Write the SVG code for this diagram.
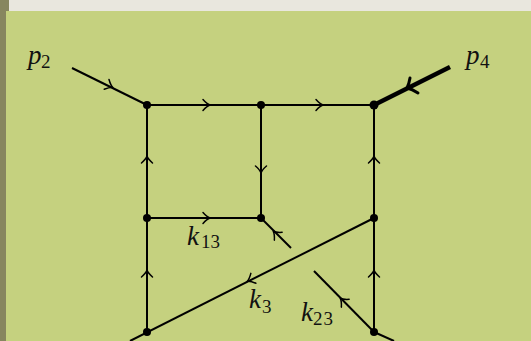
<svg xmlns="http://www.w3.org/2000/svg" width="531" height="341" viewBox="0 0 531 341">
<style>
.l{fill:none;stroke:#000;stroke-width:2;stroke-linecap:butt}
.a{fill:none;stroke:#000;stroke-width:1.5;stroke-linecap:round;stroke-linejoin:round}
.t{font-family:"Liberation Serif",serif;font-style:italic;font-size:27px;fill:#111}
.s{font-family:"Liberation Serif",serif;font-size:19px;fill:#111}
</style>
<defs><path id="h" class="a" d="M-6,-5.5 Q-2,-1 1,0 Q-2,1 -6,5.5"/></defs>
<rect width="531" height="341" fill="#e9e7de"/>
<rect x="0" y="0" width="9" height="341" fill="#87865f"/>
<rect x="6" y="11" width="525" height="330" fill="#c5d17f"/>
<g id="connectors">
<path class="l" d="M72,68 L147,105"/>
<path class="l" d="M147,105 H374"/>
<path class="l" d="M147,105 V332"/>
<path class="l" d="M261,105 V218"/>
<path class="l" d="M147,218 H261"/>
<path class="l" d="M261,218 L291,248"/>
<path class="l" d="M374,105 V332"/>
<path class="l" d="M374,218 L130,341"/>
<path class="l" d="M374,332 L314,271"/>
<path class="l" d="M374,332 L394,341"/>
<path d="M374,105 L450,67" fill="none" stroke="#000" stroke-width="4.5"/>
<use href="#h" transform="translate(112,87) rotate(26)"/>
<use href="#h" transform="translate(209,105)"/>
<use href="#h" transform="translate(322,105)"/>
<use href="#h" transform="translate(147,157) rotate(-90)"/>
<use href="#h" transform="translate(147,271) rotate(-90)"/>
<use href="#h" transform="translate(261,172) rotate(90)"/>
<use href="#h" transform="translate(209,218)"/>
<use href="#h" transform="translate(374,157) rotate(-90)"/>
<use href="#h" transform="translate(374,271) rotate(-90)"/>
<use href="#h" transform="translate(248,281) rotate(153)"/>
<use href="#h" transform="translate(274,232) rotate(-135)"/>
<use href="#h" transform="translate(341,299) rotate(-135)"/>
<path d="M410,78 Q409,84 407,88 Q412,89 418,93" fill="none" stroke="#000" stroke-width="3" stroke-linecap="round" stroke-linejoin="round"/>
</g>
<g id="n1"><circle cx="147" cy="105" r="4"/></g>
<g id="n2"><circle cx="261" cy="105" r="4"/></g>
<g id="n3"><circle cx="374" cy="105" r="4.5"/></g>
<g id="n4"><circle cx="147" cy="218" r="4"/></g>
<g id="n5"><circle cx="261" cy="218" r="4"/></g>
<g id="n6"><circle cx="374" cy="218" r="4"/></g>
<g id="n7"><circle cx="147" cy="332" r="4"/></g>
<g id="n8"><circle cx="374" cy="332" r="4"/></g>
<g id="labels">
<text class="t" x="28" y="64">p</text><text class="s" x="41" y="68">2</text>
<text class="t" x="466" y="64">p</text><text class="s" x="480" y="68">4</text>
<text class="t" x="187" y="245">k</text><text class="s" x="201" y="248">13</text>
<text class="t" x="249" y="308">k</text><text class="s" x="262" y="313">3</text>
<text class="t" x="301" y="321">k</text><text class="s" x="313" y="325" letter-spacing="1">23</text>
</g>
</svg>
